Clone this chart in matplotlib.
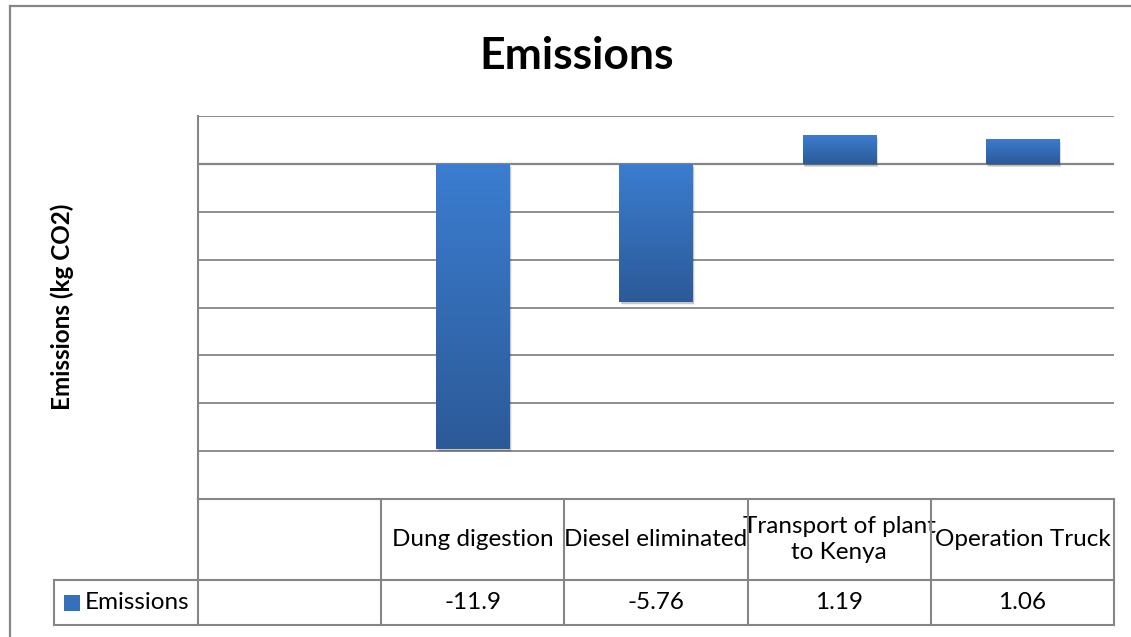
import numpy as np
import matplotlib.pyplot as plt
import matplotlib.transforms as mtransforms
from matplotlib.colors import LinearSegmentedColormap
from matplotlib.lines import Line2D
from matplotlib.patches import Rectangle

plt.rcParams['font.family'] = ['Lato', 'DejaVu Sans']

# data
categories = ["", "Dung digestion", "Diesel eliminated", "Transport of plant\nto Kenya", "Operation Truck"]
values = [np.nan, -11.9, -5.76, 1.19, 1.06]
value_labels = ["", "-11.9", "-5.76", "1.19", "1.06"]
series_name = "Emissions"
title = "Emissions"
ylabel = "Emissions (kg CO2)"

W, H = 1131, 637
fig = plt.figure(figsize=(W/100, H/100), dpi=100)
# plot area in pixels: x 198..1114, y 116..499
ax = fig.add_axes([198/W, 1-499/H, (1114-198)/W, (499-116)/H])

grey = '#868686'
cmap = LinearSegmentedColormap.from_list('bar', ['#3b7dd0', '#2c5a98'])
fs = 17.5

x = np.arange(len(categories))
bars = ax.bar(x, values, width=0.4, color='none', edgecolor='none', zorder=3)
grad = np.linspace(0, 1, 256).reshape(-1, 1)
for b in bars:
    h = b.get_height()
    if not np.isfinite(h):
        continue
    x0, y0, w = b.get_x(), b.get_y(), b.get_width()
    top, bot = max(y0, y0+h), min(y0, y0+h)
    # soft shadow
    for k, a in [(4, 0.06), (3, 0.08), (2, 0.1)]:
        off = mtransforms.offset_copy(ax.transData, fig=fig, x=k*0.6, y=-k*0.9, units='dots')
        ax.add_patch(Rectangle((x0, bot), w, top-bot, transform=off,
                               facecolor='black', alpha=a, edgecolor='none', zorder=2))
    im = ax.imshow(grad, extent=[x0, x0+w, bot, top], cmap=cmap, aspect='auto',
                   origin='upper', zorder=3)
    im.set_clip_path(b)

ax.set_xlim(-0.5, len(categories)-0.5)
ax.set_ylim(-14, 2)
ax.set_yticks(np.arange(-14, 3, 2))
ax.set_yticklabels([])
ax.set_xticks([])
ax.tick_params(axis='y', length=0)
ax.grid(axis='y', color=grey, lw=1.3, zorder=1)
ax.axhline(0, color='#7f7f7f', lw=1.6, zorder=1)
for s in ['right', 'bottom', 'top']:
    ax.spines[s].set_visible(False)
ax.spines['left'].set_color(grey)
ax.spines['left'].set_linewidth(1.5)

# data table below the plot
trans = mtransforms.blended_transform_factory(ax.transData, ax.transAxes)
ax_h = 499 - 116
col_w = (1114 - 198) / len(categories)
h1 = (580 - 499) / ax_h
h2 = (625 - 580) / ax_h
left_cell = -0.5 - (198 - 54) / col_w
xr = len(categories) - 0.5
lk = dict(color=grey, lw=1.5, transform=trans, clip_on=False, zorder=5)
ax.add_line(Line2D([-0.5, xr], [0, 0], **lk))
ax.add_line(Line2D([left_cell, xr], [-h1, -h1], **lk))
ax.add_line(Line2D([left_cell, xr], [-h1-h2, -h1-h2], **lk))
for xb in np.arange(-0.5, len(categories), 1.0):
    ax.add_line(Line2D([xb, xb], [0, -h1-h2], **lk))
ax.add_line(Line2D([left_cell, left_cell], [-h1, -h1-h2], **lk))

for xi, cat, lab in zip(x, categories, value_labels):
    ax.text(xi, -h1/2, cat, transform=trans, ha='center', va='center',
            fontsize=fs, linespacing=1.35, clip_on=False)
    ax.text(xi, -h1-h2/2, lab, transform=trans, ha='center', va='center',
            fontsize=fs, clip_on=False)

sq_x = left_cell + 10/col_w
sq = 16 / col_w
ax.add_patch(Rectangle((sq_x, -h1-h2/2-8/ax_h), sq, 16/ax_h, transform=trans,
                       facecolor='#3670bb', edgecolor='none', clip_on=False))
ax.text(left_cell + 31/col_w, -h1-h2/2, series_name, transform=trans,
        ha='left', va='center', fontsize=fs, clip_on=False)

fig.text(577/W, 1-56/H, title, ha='center', va='center', fontsize=32, fontweight='bold')
fig.text(62/W, 1-307/H, ylabel, ha='center', va='center', rotation=90,
         fontsize=fs, fontweight='bold')

# chart area border
fig.add_artist(Line2D([10/W, 10/W], [0, 1-6/H], color=grey, lw=1.6))
fig.add_artist(Line2D([10/W, 1], [1-6/H, 1-6/H], color=grey, lw=1.6))

fig.savefig('out.png', dpi=100)
